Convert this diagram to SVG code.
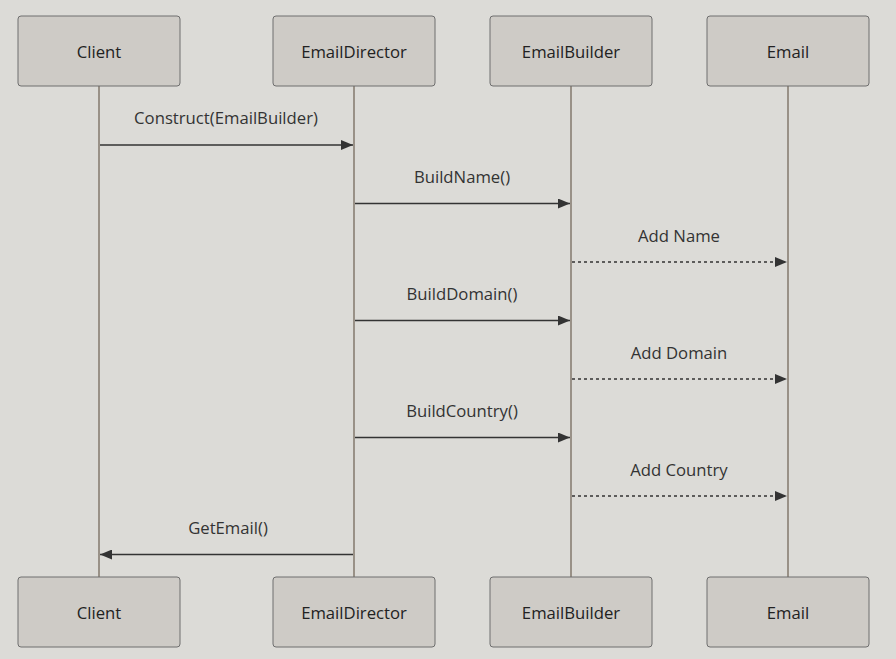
<svg xmlns="http://www.w3.org/2000/svg" width="896" height="659" viewBox="0 0 896 659">
<style>
.bg{fill:#dcdbd7}
.actor rect{fill:#cecbc6;stroke:#6e6e6e;stroke-width:1}
.actor text{font-family:"Open Sans","DejaVu Sans",sans-serif;font-size:16.7px;fill:#222;text-anchor:middle;dominant-baseline:central}
.life{stroke:#999187;stroke-width:2}
.msg{stroke:#333;stroke-width:1.5;fill:none}
.dash{stroke-dasharray:3,3}
.lbl{font-family:"Open Sans","DejaVu Sans",sans-serif;font-size:16.7px;fill:#333;text-anchor:middle}
</style>
<defs>
<marker id="ah" viewBox="0 0 12 10" refX="12" refY="5" markerWidth="12" markerHeight="10" markerUnits="userSpaceOnUse" orient="auto">
<path d="M0,0 L12,5 L0,10 z" fill="#333"/>
</marker>
</defs>
<rect class="bg" x="0" y="0" width="896" height="659"/>
<g id="lifelines">
<line class="life" x1="99" y1="86" x2="99" y2="577"/>
<line class="life" x1="354" y1="86" x2="354" y2="577"/>
<line class="life" x1="571" y1="86" x2="571" y2="577"/>
<line class="life" x1="788" y1="86" x2="788" y2="577"/>
</g>
<g id="client-top" class="actor"><rect x="18" y="16" width="162" height="70" rx="3"/><text x="99" y="51">Client</text></g>
<g id="director-top" class="actor"><rect x="273" y="16" width="162" height="70" rx="3"/><text x="354" y="51">EmailDirector</text></g>
<g id="builder-top" class="actor"><rect x="490" y="16" width="162" height="70" rx="3"/><text x="571" y="51">EmailBuilder</text></g>
<g id="email-top" class="actor"><rect x="707" y="16" width="162" height="70" rx="3"/><text x="788" y="51">Email</text></g>
<g id="client-bottom" class="actor"><rect x="18" y="577" width="162" height="70" rx="3"/><text x="99" y="612">Client</text></g>
<g id="director-bottom" class="actor"><rect x="273" y="577" width="162" height="70" rx="3"/><text x="354" y="612">EmailDirector</text></g>
<g id="builder-bottom" class="actor"><rect x="490" y="577" width="162" height="70" rx="3"/><text x="571" y="612">EmailBuilder</text></g>
<g id="email-bottom" class="actor"><rect x="707" y="577" width="162" height="70" rx="3"/><text x="788" y="612">Email</text></g>
<g id="connectors">
<line class="msg" x1="100" y1="145" x2="353" y2="145" marker-end="url(#ah)"/>
<text class="lbl" x="226" y="124">Construct(EmailBuilder)</text>
<line class="msg" x1="355" y1="203.5" x2="570" y2="203.5" marker-end="url(#ah)"/>
<text class="lbl" x="462" y="183">BuildName()</text>
<line class="msg dash" x1="572" y1="262" x2="787" y2="262" marker-end="url(#ah)"/>
<text class="lbl" x="679" y="242">Add Name</text>
<line class="msg" x1="355" y1="320.5" x2="570" y2="320.5" marker-end="url(#ah)"/>
<text class="lbl" x="462" y="300">BuildDomain()</text>
<line class="msg dash" x1="572" y1="379" x2="787" y2="379" marker-end="url(#ah)"/>
<text class="lbl" x="679" y="359">Add Domain</text>
<line class="msg" x1="355" y1="437.5" x2="570" y2="437.5" marker-end="url(#ah)"/>
<text class="lbl" x="462" y="417">BuildCountry()</text>
<line class="msg dash" x1="572" y1="496" x2="787" y2="496" marker-end="url(#ah)"/>
<text class="lbl" x="679" y="476">Add Country</text>
<line class="msg" x1="353" y1="554.5" x2="100" y2="554.5" marker-end="url(#ah)"/>
<text class="lbl" x="228" y="534">GetEmail()</text>
</g>
</svg>
